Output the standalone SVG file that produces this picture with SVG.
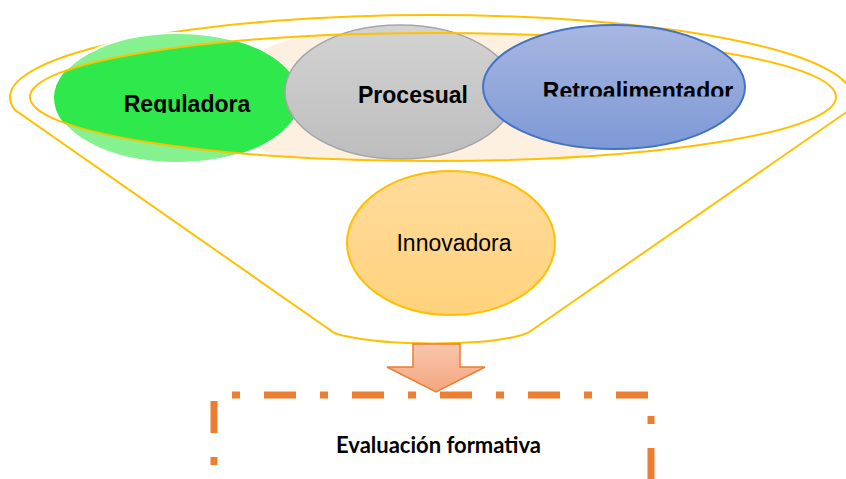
<svg xmlns="http://www.w3.org/2000/svg" width="846" height="479" viewBox="0 0 846 479">
<defs>
<style>
.gold{fill:none;stroke:#FFC000;stroke-width:2}
.lbl{font-family:"Liberation Sans",Arial,sans-serif;font-size:23px;fill:#000;text-anchor:middle}
.b{font-weight:bold}
.dash{fill:none;stroke:#ED7D31;stroke-width:7;stroke-dasharray:32 24 8 24}
</style>
<clipPath id="inner"><ellipse cx="433" cy="97" rx="403" ry="64"/></clipPath>
<clipPath id="clipReg"><rect x="0" y="0" width="846" height="113"/></clipPath>
<clipPath id="clipRet"><rect x="0" y="0" width="846" height="96.5"/></clipPath>
<linearGradient id="gGray" x1="0" y1="0" x2="0" y2="1"><stop offset="0" stop-color="#D3D3D3"/><stop offset="1" stop-color="#BDBDBD"/></linearGradient>
<linearGradient id="gBlue" x1="0" y1="0" x2="0" y2="1"><stop offset="0" stop-color="#A8B7E1"/><stop offset="1" stop-color="#7D99D6"/></linearGradient>
<linearGradient id="gOr" x1="0" y1="0" x2="0" y2="1"><stop offset="0" stop-color="#FFDB9C"/><stop offset="1" stop-color="#FFD37C"/></linearGradient>
<linearGradient id="gArr" x1="0" y1="0" x2="0" y2="1"><stop offset="0" stop-color="#F8C6AE"/><stop offset="1" stop-color="#F4A67E"/></linearGradient>
</defs>

<g id="funnel">
<path class="gold" d="M15,110 Q10,104 10,97 A421 82 0 0 1 852,97 Q852,104 848,111 L535,328 Q528,334 518,336 C480,346 390,346 345,336 Q334,334 330,330 Z"/>
</g>

<g id="background">
<ellipse cx="430" cy="100" rx="215" ry="80" fill="#FDF0E1" clip-path="url(#inner)"/>
</g>

<g id="reguladora">
<ellipse cx="177" cy="98" rx="123" ry="65" fill="#86F18F" stroke="#FFFFFF" stroke-width="2"/>
<ellipse cx="177" cy="98" rx="123" ry="65" fill="#2FE84B" clip-path="url(#inner)"/>
</g>

<g id="procesual">
<ellipse cx="400" cy="92" rx="115" ry="67" fill="url(#gGray)" stroke="#A5A5A5" stroke-width="1.5"/>
</g>

<g id="inner-ring">
<ellipse class="gold" cx="433" cy="97" rx="403" ry="64"/>
</g>

<g id="retroalimentador">
<ellipse cx="614" cy="87" rx="131" ry="62" fill="url(#gBlue)" stroke="#4472C4" stroke-width="2"/>
</g>

<g id="labels">
<text class="lbl b" x="187" y="111.5" clip-path="url(#clipReg)">Reguladora</text>
<text class="lbl b" x="413" y="103">Procesual</text>
<text class="lbl b" x="638" y="98.5" clip-path="url(#clipRet)">Retroalimentador</text>
</g>

<g id="innovadora">
<ellipse cx="451" cy="243" rx="104" ry="72" fill="url(#gOr)" stroke="#FFC000" stroke-width="2"/>
<text class="lbl" x="454" y="251">Innovadora</text>
</g>

<g id="connectors">
<path d="M413,344 H460 V367 H485 L436,392 L387,367 H413 Z" fill="url(#gArr)" stroke="#ED7D31" stroke-width="1.5"/>
</g>

<g id="evaluacion">
<path class="dash" d="M214,395 H651 V560" stroke-dashoffset="38"/>
<path class="dash" d="M214,395 V560" stroke-dashoffset="82"/>
<text x="438.5" y="453" font-family="Lato,'Open Sans',sans-serif" font-weight="bold" font-size="22" text-anchor="middle" fill="#000">Evaluación formativa</text>
</g>
</svg>
